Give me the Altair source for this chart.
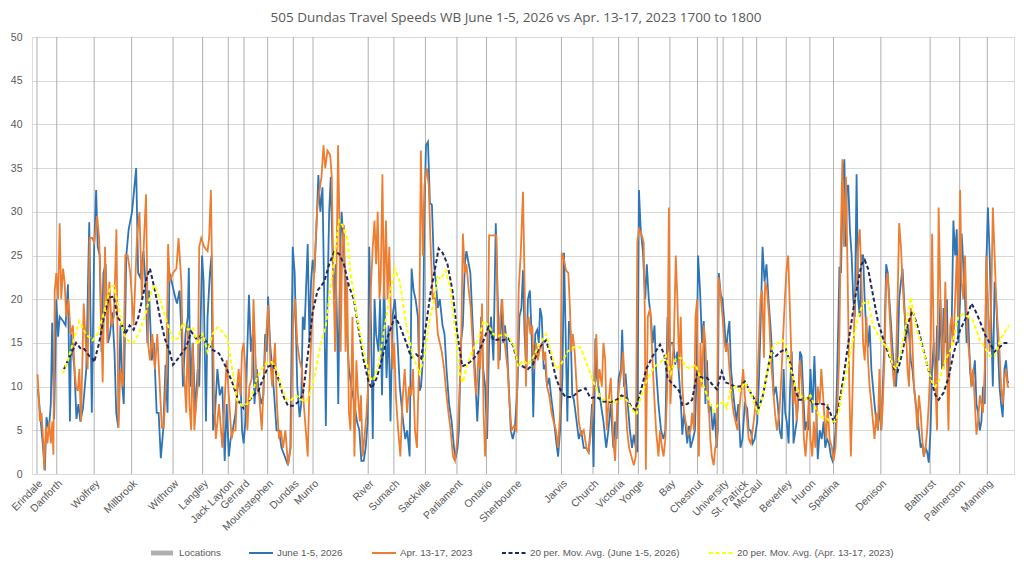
import altair as alt
import pandas as pd

TITLE = "505 Dundas Travel Speeds WB June 1-5, 2026 vs Apr. 13-17, 2023 1700 to 1800"
S_LOC = "Locations"
S_JUNE = "June 1-5, 2026"
S_APR = "Apr. 13-17, 2023"
S_MA_JUNE = "20 per. Mov. Avg. (June 1-5, 2026)"
S_MA_APR = "20 per. Mov. Avg. (Apr. 13-17, 2023)"

loc_names = ["Erindale", "Danforth", "Wolfrey", "Millbrook", "Withrow", "Langley", "Jack Layton",
             "Gerrard", "Mountstephen", "Dundas", "Munro", "River", "Sumach", "Sackville",
             "Parliament", "Ontario", "Sherbourne", "Jarvis", "Church", "Victoria", "Yonge", "Bay",
             "Chestnut", "", "University", "St. Patrick", "McCaul", "Beverley", "Huron", "Spadina",
             "Denison", "Bathurst", "Palmerston", "Manning"]
loc_index = [0, 10, 29, 48, 69, 84, 97, 105, 117, 130, 140, 168, 181, 197, 213, 228, 243, 266, 282,
             295, 305, 321, 335, 345, 348, 358, 365, 380, 392, 404, 428, 453, 468, 482]
loc_value = 50
last_point = 493
y_ticks = [0, 5, 10, 15, 20, 25, 30, 35, 40, 45, 50]

june_pts = [(0.5,9.7),(2.7,4),(4,0.4),(4.8,6.5),(6,5),(7,8),(7.7,17.3),(8.7,6.3),(9.8,20),(10.7,15.7),(11.5,18),(13.2,17.5),(14.5,17),(15.7,21.7),(16.7,6),(17.3,16),(19,12),(20,6.3),(21,8),(22,6),(23.3,7.5),(25,12),(26.5,28.8),(27.8,7),(29,26),(30,32.5),(30.8,26),(31.8,25),(32.7,14),(33.7,23),(34.8,24),(36,15),(37,16),(38.2,18.5),(39.3,14),(40.2,7),(41.2,5.3),(42.3,17),(43.3,10),(44,8),(45.3,25),(46.5,28),(48.2,30),(50.3,35),(51.3,23),(52.3,22.5),(54,25.5),(55,22),(56,15),(56.8,21),(58.2,13),(59.3,15),(60.7,7),(61.7,7),(62.8,1.8),(64,5),(65.2,12.5),(66.2,7),(67.2,23),(68.3,22),(69.8,20.5),(71,19.5),(72.3,21),(73.5,15),
(74,10),(75.3,16),(76.5,18),(77,23.6),(77.8,10),(79,15),(80.3,7),(81.5,12),(82.3,10),(83.7,25),(84.5,22),(85.7,6),(86.5,18),(87.7,23),(88.5,25),(89.3,5),(90.3,7),(91.5,12),(92.7,9),(94,10),(95.2,1.5),(96.2,8),(97.3,2),(98.2,4),(99.3,5),(100.7,7),(101.8,10),(103.2,11),(104,5),(104.8,3.5),(105.7,6),(106.5,13),(107.5,20.5),(108.5,14),(109.5,16),(110.3,8),(111.5,12),(112.3,10),(113.7,8),(114.8,9),(115.7,16),(116.5,14),(117.2,20.3),(118.2,15),(119.3,12),(120.3,9),(121.5,5),(122.7,5),(124,3),(125.7,2),(127.3,1),(128.5,3),(129.7,26),(130.7,23),(132,10),(133.2,6.5),(134,8),(134.8,18),(135.7,16.5),(137.3,26.3),(138.2,15),(139,22),(139.8,24.5),(140.7,23),(141.7,28),(142.7,34.2),(143.7,30),(144.8,32.8),(145.7,20),(146.5,5.5),(147.3,20),(148.2,30),(149,34),(149.8,26),(150.7,20),(151.5,24),(152.3,16),(152.8,8),(153.7,25),(154.5,30),(155.3,27),(156.5,22),(157.3,16),(158.2,12),
(159.8,9.5),(161,8),(162.3,6),(163.5,5),(164.5,1.5),(165.7,1.5),(166.7,3),(167.7,6),(168.5,26),(169.5,16),(170.3,4),(171.2,20),(172,16),(173.2,14),(174,20),(175,9),(176,22.5),(177.3,11),(178.3,17),(179.3,6),(180.3,18),(181.5,20),(182.7,16),(184,10),(185.7,6),(186.8,4),(187.8,5),(189,2),(190,23.5),(191,21),(192,20),(193.2,18),(194,9.5),(194.8,10),(195.7,13),(196.5,30),(197.3,37.6),(198.3,38),(199.3,31),(200.3,30.8),(201.3,24),(202.3,22),(203.3,19),(204.3,20),(205.7,17),(206.7,16),(207.7,12),(209,8),(210.3,6),(211.5,3),(212.3,1.8),(213.3,3),(214,5),(215,15),(216,17),(217,24),(217.8,25.5),(219,24),(219.8,23),(221,17),(222.3,11),(223.3,6),(224.3,11),(225.3,18),(226.3,12),(227.3,10),(228.3,4),(229.3,15),(230.3,18),(231.5,13),(232.7,28.7),(233.7,20),(234.7,13),(235.7,20),(236.5,15),(237.3,17),(238.3,15),(239.3,10),(240.3,5),(241.3,4),(242.3,5),(243.7,10),
(244.7,18),(245.7,19),(246.5,23.3),(247.3,16),(248.2,12),(249,20),(250,21),(251,15),(251.7,6.5),(252.7,16),(253.7,16.5),(254.5,15),(255.2,19),(256,18),(257,12),(257.8,12.5),(258.7,10),(259.8,11),(260.7,9),(261.8,7),(263.2,4),(264.3,2),(265.3,5),(266.5,11),(267.3,25.3),(268.2,15),(269,6),(269.8,17.5),(270.7,16),(271.5,9),(272.3,8.5),(273.7,6),(274.8,4),(276,5),(277.3,3),(278.5,3),(279.8,2.5),(280.7,5),(281.5,8),(282.3,0.8),(283.2,15.5),(284,11),(284.8,10),(286,8),(287.3,6),(288.7,3),(289.8,5),(291,8),(292.3,3),(293.2,6),(294,4),(295,11),(296.2,12),(296.8,16.5),(297.7,10),(298.5,11.5),(299.3,9),(300.7,5),(301.8,3),(302.7,4.5),(303.7,3),(304.5,2.5),(305.3,32.5),(306.2,28),(307.3,25.5),(308.5,20),(309.3,24),(310.3,20),(311.3,18),(312.3,15),(313.2,17),(314,12),(315.2,8),(316.5,5),(317.7,4),(318.7,5),(319.8,18),(320.7,14),(321.5,15),(322.7,15),(323.7,12.5),(324.8,14),(326,10),
(326.5,8.5),(327.3,4.5),(328.2,7),(329,5.5),(329.8,3.5),(330.7,5.5),(331.5,3),(332.7,4),(333.7,5),(334.5,11),(335.3,25),(336.3,21),(337.3,15),(338.2,17.5),(339,8),(339.8,13),(340.7,7),(341.7,8),(342.7,5),(343.7,7),(344.7,3),(345.3,5),(345.8,23),(346.8,20.5),(347.7,20),(348.7,17),(349.5,14),(350.3,16),(351.2,17.5),(352,12),(352.8,10),(353.7,8),(354.8,6),(355.7,8),(356.8,3),(357.8,4),(359,8),(360.2,7.5),(361,5),(362,5),(363,3.5),(364,4),(365.3,6),(366.2,11),(367,17),(368,26),(369,22),(370,24),(371,20),(372,17),(372.8,14),(373.7,9),(374.8,10),(375.7,8),(376.7,5),(377.7,4),(378.7,12),(379.5,7),(380.3,6),(381.2,3.5),(382,10),(382.8,14),(383.7,3.5),(385.3,6),(386.2,9),(387,14),(387.8,13.5),(388.7,9),(389.5,5),(390.3,6),(391.2,5),(392.3,12),(393.3,7),(394.3,13.5),(395.3,7),(396,1.7),(397,5),(398,4),(399,6),(399.8,3),(400.7,4),(401.7,3.5),(402.7,2),(403.5,1.5),(404,2),(405,5),(405.7,10),(406.5,18),(407,23.7),(407.8,23),(408.7,33.5),(409.5,36),(410.3,26),
(410.7,33),(411.5,33),(412.3,28),(413.2,25),(414,20),(414.8,18),(415.7,34.3),(416.5,20),(417.3,18),(418.2,25),(419,25),(419.8,20),(420.7,16),(421.5,14.5),(422.3,17),(423.2,12),(424,10),(424.8,8),(425.7,6),(426.5,5),(427.3,8),(428.2,5),(429,10),(429.8,15),(430.7,24),(431.5,23),(432.3,20),(433.2,17),(434,14),(434.8,12),(435.7,10),(436.5,13),(437.3,20),(438.2,22),(439,23.5),(439.8,20),(440.7,15),(441.5,17),(442.3,16),(443.2,13),(444,12),(444.8,10),(445.7,8),(446.5,7),(447.3,5),(448.2,3),(449,3.5),(449.8,2),(450.7,3),(451.5,2.5),(452.3,1.3),(453.2,5),(454,12),(454.8,15),(455.7,10),(456.5,17),(457.3,13),(458.2,20),(459,12),(459.8,19),(460.7,15),(461.5,20),(462.3,10),(463.2,15),(464,18),(464.8,29),(465.7,25),(466.5,28),(467.3,15),(468.2,20),(469,27.5),(469.8,24),(470.7,20),(471.5,15),(472.3,18),(473.2,12),(474,10),(474.8,11),(475.7,13),(476.5,8),(477.3,7),(478.2,5),(479,6),(479.8,10),(480.7,8),(481.5,24),(482.3,30.5),(483.2,25),(484,17),(484.8,10),(485.7,22),(486.5,20),(487.3,15),(488.2,10),(489,8),(489.8,6.5),(490.7,12),(491.5,13),(492.3,10.5),(493,10.5)]

apr_pts = [(0.3,11.4),(1.5,6),(2.3,7),(3.2,3.5),(3.7,0.5),(4.5,5.5),(5.3,3.5),(6.2,6),(7,3.5),(7.8,6),(8.3,2.2),(9,21),(9.8,23),(10.7,20),(11.5,28.7),(12.3,20),(13.2,23.5),(14,22),(14.8,18),(16,20),(17,16),(18.2,17),(19,12),(19.8,10),(20.7,9.5),(21.5,12),(22.3,6),(23.7,19.5),(24.7,15),(25.7,12),(26.7,27),(28,27),(29,26.5),(30.5,29.5),(31.5,27),(32.3,21),(33.3,10.5),(34.5,26),(35.7,15),(36.7,22),(37.8,17),(39,18),(40.3,28),(41.3,5.3),(42.3,12),(43.7,10),(44.8,25),(46,25),(47.3,23),(49,17),(50.7,27),(52,30),(53.2,20),(54.3,27),(55.3,32),(56.3,15),(57.3,13),(58.5,16),(59.8,12),(61,16),(62.3,10),(63.3,5.3),(64.3,5.3),(65.7,12),(66.5,26.3),(67.3,22),(69,23),(70.7,23.5),(71.8,27),(73.2,22),
(74,13),(74.8,11),(75.7,7),(76.5,17),(77.3,8),(78.2,5),(79,15),(79.8,5),(80.7,8),(81.5,10),(82.3,26),(83.3,27),(84.8,26),(86.5,25.5),(87.3,27),(88.2,32.5),(89,20),(89.8,9),(90.7,4),(92.3,8),(94,3),(95.3,9),(96.2,13),(97.3,9),(98.7,4),(99.5,5),(100.7,5),(101.5,10),(102.3,12),(103.2,9),(104,14),(104.8,15),(105.7,12),(106.7,5),(107.7,10),(109,11),(109.8,20),(110.7,14),(111.5,10),(112.7,9),(114,5),(115.3,12),(116.3,16),(117.3,19.3),(118.3,13),(119.3,10),(120.7,15),(121.7,8),(122.7,4),(123.7,5),(124.8,3),(126,5),(127.3,1),(128.7,3),(129.8,16.5),(131,20),(132,15),(133.2,13),(134.3,12),(135.3,8),(136.5,4.5),(137.3,2),(138.2,10),(139,15),(140,20),(141,25),(142,30),(143,32),(144.3,34),(145.3,37.6),(146.2,35),(147.3,37),(148.7,36.5),(149.5,34),(150.3,23),(151.2,14),(152,25),(152.7,37.6),(153.3,30),(154,14),(154.8,26),(155.7,28.5),
(156.5,14),(157.3,22),(158.2,7),(159,5),(160,18),(161,2),(162,13),(162.8,9),(163.7,6),(164.3,9),(165.2,2),(166,4),(167,6.5),(168.2,11),(169.3,21),(170.3,26),(171.2,29),(172,24),(172.8,30),(173.7,20),(174.3,22),(175.2,34.3),(176,20),(177,29),(177.8,20),(178.7,26),(179.5,18),(180.3,12),(181.2,15),(182,9),(183.2,5),(184.3,2),(185.3,8),(186.5,12),(187.7,7),(188.7,10),(189.8,9),(190.7,12),(191.7,5),(192.7,3),(193.7,12),(194.7,37),(195.7,25),(196.5,33),(197.7,35),(198.7,33),(199.5,27),(200.7,20),(201.5,20.5),(202.3,19.5),(203.3,16),(204.3,15),(205.3,14),(206.5,12),(207.7,9),(208.7,7),(209.8,5),(211,2),(212,1.5),(213.2,4),(214,8),(215,13),(216,27.5),(217,23),(217.8,24),(219,21),(220,19),(221,15),(222,11),(222.8,9),(224,14),(224.8,12),(225.7,19.5),(226.5,7),(227.3,2),(228.3,8),(229.3,27.3),(230.7,27.3),(232,27.3),(233,27.3),(234,12),(235,18),(236,20),(236.8,16),(237.7,14),(238.7,12),(239.7,8),(240.7,5),(242,5.5),(243.2,5),
(244.3,21),(245.3,25),(246.5,32.3),(247.3,22),(248,10),(248.7,17),(249.3,18),(250.3,16),(251.2,17),(252,12),(253.2,15),(254,13),(254.8,14),(256,15),(257,13),(257.8,14),(258.7,10),(259.8,9),(261,7),(262,6),(263.2,5),(264.3,3),(265.3,7),(266.2,25.3),(267.3,24.5),(268.3,23.3),(269.5,23),(270.3,19),(271,14),(271.8,16),(272.7,14),(273.7,10),(274.8,6),(276,4.5),(277.3,5),(278.7,3),(279.8,2.5),(281,5),(282,8),(282.8,12),(283.7,16),(284.5,10),(285.3,12),(286.5,10),(287.3,15),(288.2,13),(289,5),(289.8,8),(291,11),(292.3,4),(293.2,1.5),(294.3,8),(295.3,10),(296.5,12),(297.3,14),(298.3,9),(299.3,5),(300.3,3),(301.5,2),(302.7,1),(303.7,2),(304.5,26.5),(305.3,28),(306.5,27.5),(307.7,26.5),(308.3,18),(308.8,0.5),(309.8,18),(311,19),(312,14),(312.8,10),(314,5),(315.2,2),(316,5),(317,3),(317.8,2),(318.7,4),(319.7,10),(320.5,30.5),(321.3,8),(322,12),(323,15),(324,25),(324.8,20),(325.7,12),(326.5,18),(327.3,10),(328.2,7),(329,6),
(330.3,4.5),(331.5,5),(332.3,7),(333.2,5),(334,18),(334.8,20),(335.7,2),(336.5,15),(337.3,10),(338.2,17),(339,15),(339.8,10),(340.7,8),(341.5,4),(342.3,2),(343.2,1),(344,3),(344.8,3.5),(345.7,22.5),(346.5,21),(347.7,18),(348.7,15),(349.5,14),(350.3,15),(351.2,12),(352.3,9),(353.3,7),(354.3,6),(355.3,5),(356.5,8),(357.3,10),(358.2,12),(359,9),(359.8,7),(361,4),(362,3.5),(363,5),(364,7),(365,9),(366,14),(367,20),(367.8,21),(368.7,13.3),(369.3,22),(370.3,21),(371.3,18),(372.3,13),(373.3,10),(374.3,7),(375.3,5),(376.5,7),(377.3,10),(378.3,15),(379.3,20),(380.2,23.5),(381,25),(382,18),(382.8,12),(383.7,8),(384.5,10),(385.3,6),(386.2,9),(387,13),(388,10),(389,4),(389.8,2),(390.7,5),(391.5,9),(392.3,4),(393.2,2),(394,6),(394.8,3),(396,10),(397,8),(397.8,12),(398.7,9),(399.5,6),(400.3,4),(401,8),(402,4),(403.2,3),(404,1.5),(405,3),(406,8),(406.8,13),(407.7,27),(408.5,36),(409.3,26),(410.3,34),(411.2,22),(412,10),(412.8,2),(413.7,10),
(414.8,20),(415.7,22),(416.5,26),(417.3,28),(418.2,22),(419,15),(419.8,13),(420.7,18),(421.5,13),(422.3,10),(423.2,8),(424,6),(424.8,4),(425.7,7),(426.5,5),(427.3,12),(428.2,5),(429,8),(429.8,13),(430.7,22),(431.5,23),(432.3,19),(433.2,15),(434,12),(434.8,10),(435.7,13),(436.5,20),(437.3,28.7),(438.2,26),(439,22),(439.8,19),(440.7,17),(441.5,12),(442.3,10),(443.2,19),(444,15),(444.8,10),(445.7,8),(446.5,5),(447.3,9),(448.2,7),(449,4),(449.8,2),(450.7,3),(451.5,5),(452.3,8),(453.2,13),(454,27.5),(454.8,15),(455.7,10),(456.5,5),(457.3,30.5),(458.2,20),(459,15),(459.8,12),(460.7,22),(461.5,13),(462.3,5),(463.2,17),(464,18),(464.8,15),(465.7,20),(466.5,25),(467.3,18),(468.2,32.5),(469,22),(469.8,20),(470.7,25),(471.5,18),(472.3,15),(473.2,13),(474,10),(474.8,12),(475.7,8),(476.5,4.5),(477.3,6),(478.2,9),(479,8),(479.8,7),(480.7,12),(481.5,25),(482.3,20),(483.2,14),(484,20),(484.8,30.5),(485.7,25),(486.5,20),(487.3,17),(488.2,14),(489,10),(489.8,8),(490.7,11),(491.5,12),(492.3,10),(493,10)]

ma_june_pts = [(13.7,12),(15.7,13),(19.8,15),(22.3,14.3),(24,14.3),(26.5,13.5),(28.2,13.2),(29,12.8),(31.5,15),(34,18),(36.5,20.2),(39,20.3),(40.7,18),(42.3,17.5),(44.8,16),(47,17),(49,16.5),(51.5,18),(55.7,22.5),(57.3,23.5),(59.8,21),(62.3,18),(64.8,15.5),(67.3,14),(69,12.5),(71.5,13.2),(75.7,14.5),(78.2,16.3),(80.7,15.5),(83.2,15.8),(85.7,15.2),(89,14.2),(92.3,13.8),(95.7,12.3),(99,10.5),(102.3,8.3),(104.8,7.5),(107.3,8.3),(109.8,9),(112.3,9.5),(114.8,11),(117.3,12.3),(119.8,12.5),(122.3,11),(124.8,9),(127.3,7.8),(129.8,7.8),(132.3,8.2),(134.8,9),(137.3,13.5),(139.8,18.5),(142.3,21),(145.7,22),(148.2,24),(150.7,25.4),(153.2,25.2),(155.7,24),(158.2,21.5),(160.7,20),(163.2,16.5),(165.7,13),(168.2,10.5),(169.8,9.8),(172.3,11),(174.8,13),(177.3,15.3),(181.5,18),(184,17),(187.3,15),(189.8,13.3),(192.3,13.7),(194.8,13.2),(197.3,17),(199.8,21),(202.3,24),(203.7,25.8),(205.7,25.3),(208.2,24),(210.7,21),(213.2,16),(215.7,12.3),(218.2,12.6),(220.7,13),(223.2,13.7),(225.7,14.8),(229,16.8),(231.5,15.3),(234,15.4),(236.5,15.3),(239,15.5),(241.5,14.7),(244,12.5),(246.5,12.3),(249,12),(251.5,12.5),(254.8,14.5),(258.2,15.3),(260.7,13.5),(263.2,11),(265.7,9.5),(268.2,8.8),(271.5,8.8),(274.8,9.5),(278.2,9.8),(280.7,8.7),(284,8.8),(287.3,8.3),(290.7,8.2),(294,8.5),(296.5,9),(299,8.7),(301.5,7.7),(303.2,7.3),(305.7,9),(309,12),(312.3,13.5),(316,14.8),(318.2,13.6),(319.8,11),(322.3,10.3),(325.7,9.5),(327.3,7.9),(329.8,8),(332.3,8.5),(334.8,11.5),(337.3,11),(339.8,11),(342.3,10.3),(344.8,9.7),(347.3,11.7),(349,10.5),(351.5,10.3),(354,10),(356.5,10),(359,10.6),(361.5,9.5),(364,8.5),(366,7.5),(368.2,9),(370.7,12),(372.3,14),(374.8,13.5),(377.3,14),(379.8,14.3),(382.3,12.5),(384.8,9.5),(386.5,8.5),(389,8.5),(391.5,8.7),(394,8),(396.5,8),(399,8),(401.5,7.5),(404,6),(406.5,7.5),(409,11),(411.5,15),(414.8,20),(418.2,24),(419.8,24.5),(421.5,23.5),(424,20.5),(426.5,17.5),(429.8,15),(432.3,13.5),(434.8,12),(436.5,11.7),(439,14),(441.5,17),(444,18.7),(446.5,17),(449.8,14),(453.2,11),(455.7,9),(457.3,8.5),(459.8,9.3),(462.3,11),(464.8,13.7),(468.2,16.5),(471.5,18),(474,19.5),(475.7,18.8),(478.2,17.5),(480.7,16),(483.2,15),(485.7,14),(488.2,14.5),(490.7,15),(493,15)]

ma_apr_pts = [(13.2,11.5),(15.7,13),(18.2,15),(21.5,17.5),(24.8,16),(28.2,15.3),(30.7,16),(34,18.5),(37.3,21.5),(39,21.5),(41.5,19),(44,16),(46.5,15.2),(49,15),(51.5,16),(54,17.5),(58.2,21),(59.8,21.6),(62.3,20),(65.7,17.5),(69,15.3),(71.5,15.5),(74,17.3),(76.5,16.5),(79,16.7),(81.5,14.8),(84,16),(86.5,14),(89,16),(91.5,16.8),(94,16.3),(96.5,15.5),(99,12),(101.5,8.5),(104,7.8),(106.5,8),(109,9),(111.5,11),(114,12),(116.5,12.7),(119,12.8),(121.5,12),(124,10),(126.5,8.5),(129,8.5),(131.5,9),(134,8.5),(136.5,8.3),(139,9.5),(141.5,12),(144,15),(146.5,17),(148.7,21),(150.7,24.5),(153.2,29),(154.8,28.5),(157.3,27),(159,23),(162.3,18),(165.7,14),(169,11),(170.7,10.7),(173.2,12.5),(175.7,16),(179,20.5),(181.5,23.5),(184,22),(187.3,17),(190.7,13.5),(194,11.5),(196.5,13.5),(199,17.5),(201.5,20),(203.2,22.5),(204.8,22.3),(207.3,23.3),(209.8,21),(212.3,16),(214.3,11.5),(216,10.5),(218.2,12.5),(220.7,14),(224,15.5),(226.5,17.5),(229,17),(231.5,16),(234,15.8),(237.3,16),(239.8,15.5),(242.3,14.5),(244,12.3),(246.5,13),(249,12.5),(251.5,13.3),(254.8,14.8),(258.2,16),(260.7,14),(263.2,12),(265.7,12.5),(269,14),(272.3,14.5),(275.7,14.5),(279,12.5),(282.3,10.5),(286.5,8.5),(289.8,8.5),(293.2,8.2),(296.5,8.7),(299,8.5),(301.5,7.5),(304,6.8),(306.5,9),(309.8,11),(313.2,12.3),(316.5,12.8),(319,13.5),(321.5,11.5),(324,13.2),(326.5,13.3),(329,12.3),(331.5,12),(334,12.5),(336.5,11),(339,9.5),(341.5,8),(343.2,7.2),(345.7,8),(348.2,8.2),(349.8,7.5),(351.5,9.5),(354,10),(356.5,9.5),(359,10.5),(361.5,9.5),(364,8),(365.7,7),(368.2,9),(370.7,12),(373.2,14.5),(375.7,15),(378.2,15.3),(379.8,14.7),(382.3,12),(384.8,10),(387.3,9),(389.8,8.5),(392.3,9),(394.8,7.5),(397.3,6.5),(399.8,6.5),(402.3,6),(404.8,6),(406.5,7),(409,10),(411.5,12.7),(414,15.5),(416.5,18),(419,19.5),(421.5,19.8),(424,17),(426.5,16),(429,15),(431.5,14.5),(434,12.5),(435.7,12),(438.2,14),(440.7,17),(443.2,20.2),(445.7,17),(449,14.5),(451.5,12.5),(454,10.5),(455.7,10),(458.2,11),(460.7,13),(464,14.5),(467.3,18),(469.8,18.3),(472.3,18),(474.8,17.5),(478.2,15.3),(480.7,14.5),(483.2,13.5),(485.7,13.5),(489,15.5),(491.5,16.5),(493,17)]

FONT = "Liberation Sans"
TITLE_FONT = "Open Sans"
GREY_TEXT = "#595959"
series_order = [S_JUNE, S_APR, S_MA_JUNE, S_MA_APR]
series_colors = ["#2E75B6", "#ED7D31", "#1F2A5C", "#FFFF00"]
series_dash = [[1, 0], [1, 0], [4, 2.5], [4, 2.5]]

names_js = "[" + ",".join("'" + n + "'" for n in loc_names) + "]"
idx_js = "[" + ",".join(str(v) for v in loc_index) + "]"
label_expr = names_js + "[indexof(" + idx_js + ", datum.value)]"

xscale = alt.Scale(domain=[0, last_point], nice=False, zero=False)
yscale = alt.Scale(domain=[0, 50], nice=False)

x_axis = alt.Axis(values=loc_index, labelExpr=label_expr, labelAngle=-45, labelAlign="right",
                  labelBaseline="top", grid=False, domain=False, ticks=False, labelPadding=4,
                  labelFontSize=10.5, labelColor=GREY_TEXT, labelFont=FONT, title=None,
                  labelOverlap=False, labelFlush=False, labelBound=False)
y_axis = alt.Axis(values=y_ticks, grid=True, gridColor="#D9D9D9", gridWidth=1, domain=False,
                  ticks=False, labelPadding=10, labelFontSize=10.5, labelColor=GREY_TEXT,
                  labelFont=FONT, title=None)

X = alt.X("point:Q", scale=xscale, axis=x_axis)
Y = alt.Y("speed:Q", scale=yscale, axis=y_axis)

stroke_scale = alt.Scale(domain=series_order, range=series_colors)
dash_scale = alt.Scale(domain=series_order, range=series_dash)
line_legend = alt.Legend(orient="none", legendX=216, legendY=503, direction="horizontal",
                         title=None, symbolType="stroke", symbolSize=576, symbolStrokeWidth=2,
                         labelFontSize=9.8, labelColor=GREY_TEXT, labelFont=FONT, labelLimit=400,
                         columnPadding=25, labelOffset=3)
loc_legend = alt.Legend(orient="none", legendX=118, legendY=504, direction="horizontal",
                        title=None, symbolType="M-1,-0.22H1V0.22H-1Z", symbolSize=484,
                        labelFontSize=9.8, labelColor=GREY_TEXT, labelFont=FONT, labelOffset=5)

loc_df = pd.DataFrame({"point": loc_index, "name": loc_names})
loc_df["speed"] = loc_value
loc_df["location_series"] = S_LOC

loc_layer = alt.Chart(loc_df).mark_bar(size=1).encode(
    x=X, y=Y,
    fill=alt.Fill("location_series:N", scale=alt.Scale(domain=[S_LOC], range=["#B0B0B0"]),
                  legend=loc_legend),
)


def line_layer(pts, name, width):
    df = pd.DataFrame({"point": [p[0] for p in pts], "speed": [p[1] for p in pts]})
    df["series"] = name
    return alt.Chart(df).mark_line(strokeWidth=width).encode(
        x=X, y=Y,
        stroke=alt.Stroke("series:N", scale=stroke_scale, legend=line_legend),
        strokeDash=alt.StrokeDash("series:N", scale=dash_scale, legend=line_legend),
    )


chart = alt.layer(
    loc_layer,
    line_layer(june_pts, S_JUNE, 1.8),
    line_layer(apr_pts, S_APR, 1.8),
    line_layer(ma_june_pts, S_MA_JUNE, 2),
    line_layer(ma_apr_pts, S_MA_APR, 2),
).properties(
    width=982, height=437,
    padding={"left": 24, "top": 29, "right": 2, "bottom": 88},
    autosize=alt.AutoSizeParams(type="none"),
    title=alt.TitleParams(TITLE, fontSize=13.5, color=GREY_TEXT, font=TITLE_FONT,
                          fontWeight="normal", anchor="middle", offset=8, dx=-7),
).configure_view(fill="#BFBFBF", stroke=None).configure(background="white")

chart.save("out.html", embed_options={"renderer": "svg", "actions": False})
